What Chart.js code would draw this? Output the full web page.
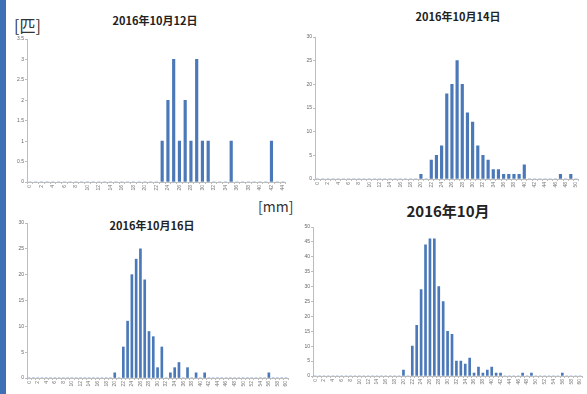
<!DOCTYPE html>
<html>
<head>
<meta charset="utf-8">
<script src="https://cdn.jsdelivr.net/npm/chart.js@4"></script>
<style>
  body { margin: 0; width: 587px; height: 394px; background: #fff; position: relative; overflow: hidden;
         font-family: "Noto Sans CJK JP", "Noto Sans", sans-serif; }
  .stripe { position: absolute; left: 0; top: 0; width: 6px; height: 394px; background: #3f6fb5; }
  .panel { position: absolute; }
  .title { position: absolute; font-weight: bold; color: #222; white-space: nowrap; transform: translateX(-50%); }
  .unit { position: absolute; color: #333; white-space: nowrap; }
</style>
</head>
<body>
<div class="stripe"></div>
<div class="unit" style="left:14px; top:13px; font-size:16px;">[匹]</div>
<div class="unit" style="left:258px; top:196px; font-size:14px;">[mm]</div>

<div class="title" style="left:155px; top:12px; font-size:11px;">2016年10月12日</div>
<div class="title" style="left:458px; top:8px; font-size:11px;">2016年10月14日</div>
<div class="title" style="left:152px; top:217px; font-size:11px;">2016年10月16日</div>
<div class="title" style="left:448px; top:200px; font-size:15px;">2016年10月</div>

<canvas id="chart1" class="panel" width="277" height="161" style="left:13px; top:35px;"></canvas>
<canvas id="chart2" class="panel" width="282" height="160" style="left:301px; top:33px;"></canvas>
<canvas id="chart3" class="panel" width="280" height="173" style="left:13px; top:219px;"></canvas>
<canvas id="chart4" class="panel" width="288" height="167" style="left:299px; top:223px;"></canvas>

<script>
// size classes (mm) shared by all panels
const sizes = [0,1,2,3,4,5,6,7,8,9,10,11,12,13,14,15,16,17,18,19,20,21,22,23,24,25,26,27,28,29,30,
  31,32,33,34,35,36,37,38,39,40,41,42,43,44,45,46,47,48,49,50,51,52,53,54,55,56,57,58,59,60];

// counts [匹]
const count1012 = [0,0,0,0,0,0,0,0,0,0,0,0,0,0,0,0,0,0,0,0,0,0,0,
  1,2,3,1,2,1,3,1,1,0,0,0,1,0,0,0,0,0,0,1,0,0];
const count1014 = [0,0,0,0,0,0,0,0,0,0,0,0,0,0,0,0,0,0,0,0,1,0,
  4,5,7,18,20,25,20,14,12,7,5,4,2,2,1,1,1,1,3,0,0,0,0,0,0,1,0,1,0];
const count1016 = [0,0,0,0,0,0,0,0,0,0,0,0,0,0,0,0,0,0,0,0,1,0,
  6,11,20,23,25,19,9,8,2,6,0,1,2,3,0,2,0,1,0,1,0,0,0,0,0,0,0,0,0,0,0,0,0,0,1,0,0,0,0];
const count10 = [0,0,0,0,0,0,0,0,0,0,0,0,0,0,0,0,0,0,0,0,2,0,
  10,17,29,44,46,46,30,25,15,14,5,5,4,6,1,3,1,2,3,1,1,0,0,0,0,1,0,1,0,0,0,0,0,0,1,0,0,0,0];

const barColor = '#4a78b8';
const axisColor = '#bdbdbd';

const chartDefs = [
  { id: 'chart1', labels: sizes.slice(0, 45), data: count1012, yMax: 3.5, yStep: 0.5, bar: 2.5 },
  { id: 'chart2', labels: sizes.slice(0, 51), data: count1014, yMax: 30, yStep: 5, bar: 2.5 },
  { id: 'chart3', labels: sizes.slice(0, 61), data: count1016, yMax: 30, yStep: 5, bar: 2 },
  { id: 'chart4', labels: sizes.slice(0, 61), data: count10, yMax: 50, yStep: 5, bar: 2 }
];

const chartConfig = (def) => ({
  type: 'bar',
  data: {
    labels: def.labels,
    datasets: [{
      data: def.data,
      backgroundColor: barColor,
      barThickness: def.bar,
      borderWidth: 0
    }]
  },
  options: {
    responsive: false,
    animation: false,
    layout: { padding: { top: 4, right: 3, left: 0, bottom: 0 } },
    plugins: { legend: { display: false }, tooltip: { enabled: false } },
    scales: {
      x: {
        afterFit: (scale) => { scale.height = 14; },
        grid: { display: true, drawOnChartArea: false, color: axisColor, tickLength: 2 },
        border: { color: axisColor },
        ticks: {
          autoSkip: false,
          maxRotation: 90,
          minRotation: 90,
          padding: 1,
          color: '#777',
          font: { size: 5 },
          callback: function (val, i) { return i % 2 === 0 ? this.getLabelForValue(val) : ''; }
        }
      },
      y: {
        min: 0,
        max: def.yMax,
        afterFit: (scale) => { scale.width = 14; },
        grid: { display: true, drawOnChartArea: false, color: axisColor, tickLength: 2 },
        border: { color: axisColor },
        ticks: {
          stepSize: def.yStep,
          padding: 1,
          color: '#666',
          font: { size: 5 },
          callback: (val) => String(val) // 3 not 3.0
        }
      }
    }
  }
});

const charts = {};
chartDefs.forEach((def) => {
  const canvas = document.getElementById(def.id);
  charts[def.id] = new Chart(canvas.getContext('2d'), chartConfig(def));
});
</script>
</body>
</html>
